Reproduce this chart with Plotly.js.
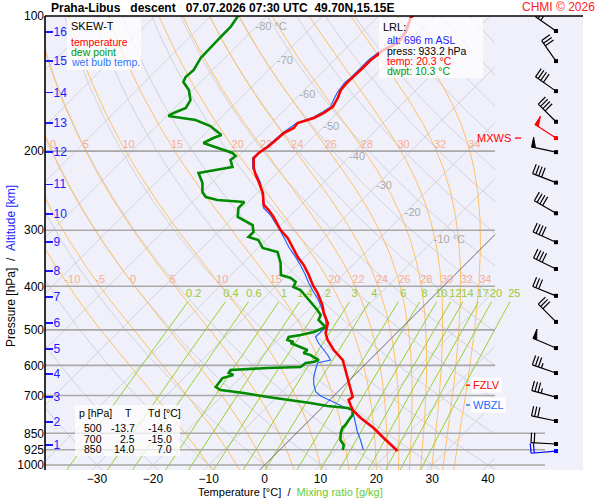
<!DOCTYPE html>
<html><head><meta charset="utf-8">
<script src="https://cdn.plot.ly/plotly-3.0.1.min.js"></script>
<style>body{margin:0;background:#fff}#chart{width:600px;height:500px}</style>
</head><body><div id="chart"></div>
<script>
// ---------------- sounding data ----------------
const tempP = [99.5,101.0,104.7,109.1,114.8,119.1,122.1,125.3,129.9,136.7,140.3,146.1,152.3,159.4,164.4,168.7,173.1,177.6,182.2,190.8,195.8,201.9,207.2,218.1,226.0,234.3,247.9,263.6,270.5,280.3,292.1,299.7,312.2,328.6,344.2,358.6,377.4,397.3,413.9,440.2,458.7,482.8,508.2,526.8,554.5,583.7,614.4,656.7,705.6,716.5,754.2,785.8,827.2,870.7,911.8,930.7];
const tempT = [-53.9,-53.9,-53.0,-52.1,-51.7,-53.0,-53.2,-53.5,-53.5,-53.7,-53.7,-53.5,-52.6,-51.9,-52.4,-53.3,-55.3,-55.1,-56.0,-56.2,-56.4,-56.9,-56.9,-55.1,-53.5,-51.7,-49.0,-46.7,-44.9,-42.8,-40.6,-39.2,-36.5,-33.8,-31.3,-28.8,-26.1,-23.6,-21.3,-18.3,-16.6,-14.1,-12.7,-11.1,-8.2,-4.8,-2.5,0.4,3.6,3.4,5.9,8.8,12.9,16.5,19.7,21.3];

const dewP = [99.5,105.8,111.4,119.1,124.0,131.9,136.7,140.3,146.1,153.9,160.3,164.4,167.0,170.5,175.8,184.1,187.0,191.8,196.8,201.9,205.0,209.3,216.9,223.7,235.5,246.6,253.0,256.9,259.6,267.7,280.3,287.6,292.1,302.7,310.6,315.4,328.6,335.5,354.9,377.4,383.3,391.2,401.4,407.6,424.7,440.2,451.6,463.4,475.4,492.8,505.6,513.4,518.7,526.8,532.2,534.9,546.0,554.5,563.1,568.9,583.7,589.7,592.7,605.0,608.1,614.4,623.9,630.3,640.1,670.3,680.7,691.3,705.6,716.5,727.6,738.9,746.6,754.2,773.8,793.9,814.5,827.2,848.7,879.7,902.5,926.0];
const dewT = [-85.2,-84.5,-84.5,-84.3,-84.3,-83.4,-83.6,-83.1,-80.7,-78.6,-78.0,-79.3,-79.7,-74.1,-70.4,-66.8,-67.7,-68.6,-65.2,-61.6,-60.5,-60.7,-59.1,-64.1,-61.6,-60.0,-58.5,-55.9,-50.7,-50.7,-49.2,-46.5,-45.1,-43.7,-43.7,-41.4,-39.2,-35.8,-33.3,-31.1,-28.8,-27.2,-26.7,-24.9,-22.2,-19.9,-18.3,-16.8,-16.3,-13.8,-15.0,-16.8,-18.6,-18.3,-16.8,-17.2,-14.7,-12.9,-13.1,-11.5,-9.1,-9.7,-10.9,-11.1,-16.8,-23.1,-22.9,-21.7,-23.1,-22.7,-21.3,-16.6,-11.6,-7.0,-2.9,0.7,4.7,5.9,6.8,7.0,7.3,7.3,7.9,9.1,10.6,11.3];

const wetP = [99.5,104.7,109.1,114.8,119.1,125.3,130.6,137.4,140.3,147.7,153.9,159.4,163.6,167.9,173.1,182.2,195.8,207.2,218.1,227.2,235.5,247.9,267.7,277.5,289.1,296.6,310.6,327.0,344.2,358.6,377.4,393.2,411.8,429.1,451.6,475.4,492.8,518.7,534.9,548.8,568.9,583.7,592.7,614.4,640.1,663.5,687.8,702.0,723.9,742.7,754.2,773.8,806.2,844.3,879.7,926.0];
const wetT = [-54.2,-53.3,-52.4,-52.1,-53.3,-53.9,-53.9,-53.9,-54.1,-53.7,-53.0,-52.3,-52.8,-53.5,-55.5,-56.2,-56.6,-57.1,-55.3,-53.0,-51.2,-49.1,-46.2,-43.7,-41.4,-39.9,-37.4,-34.7,-31.7,-29.4,-26.7,-24.7,-22.2,-19.9,-17.4,-15.0,-13.7,-13.8,-12.2,-10.6,-8.4,-7.0,-8.8,-7.9,-6.8,-5.5,-3.9,-2.3,1.1,3.8,5.9,7.0,8.8,10.7,12.7,15.0];

const windP   = [108,126,147,172,187,201,235,275,319,366,420,480,549,624,706,798,898,931];
const windDir = [305,325,305,315,303,282,291,300,294,296,292,315,293,289,285,282,273,265];
const windSpd = [30,30,40,40,50,50,40,40,40,40,30,30,50,35,35,30,20,20];
const mxwsIndex = 4;          // red barb (maximum wind)
const surfaceIndex = 17;      // blue barb

const pressureTicks = [100,200,300,400,500,600,700,850,925,1000];
const altitudeKm = [1,2,3,4,5,6,7,8,9,10,11,12,13,14,15,16];
const altitudeP  = [902,802,706,627,552,483,422,370,319,276,237,201,173,148,126,108.5];

const isothermValues = [-120,-110,-100,-90,-80,-70,-60,-50,-40,-30,-20,-10,10,20,30,40];
const isothermLabelValues = [-80,-70,-60,-50,-40,-30,-20,-10];
const isothermLabelP = [105.9,126.3,150.0,176.7,206.1,239.1,274.7,315.4];
const dryAdiabatTheta = [-40,-30,-20,-10,0,10,20,30,40,50,60,70,80,90,100,110,120,130,140,150,160,170,180];
const moistThetaW = [-10,-5,0,5,10,15,20,22,24,26,28,30,32,34];
const moistLabelP = [194,387];
const moistLabelRows = [[0,5,10,15,20,22,24,26,28,30,32,34], [-10,-5,0,5,10,15,20,22,24,26,28,30,32,34]];
const mixingRatios = [0.2,0.4,0.6,1,1.4,2,3,4,6,8,10,12,14,17,20,25];
const mixingLabels = ['0.2','0.4','0.6','1','1.4','2','3','4','6','8','10','12','14','17','20','25'];
const mixingLabelP = 416, mixingTopP = 433;

const tableP = [500,700,850];
const tableT = [-13.7,2.5,14.0];
const tableTd = [-14.6,-15.0,7.0];
const lrlAlt = 696, lrlPress = 933.2, lrlTemp = 20.3, lrlDwpt = 10.3;
const fzlvP = 664, wbzlP = 735;

// ---------------- diagram geometry ----------------
const FONT = 'Liberation Sans, Arial, Helvetica, sans-serif';
const PXPERDEG = 5.586, PXPERDEC = 449;
const K = PXPERDEC / PXPERDEG;                // 45 degree skew
const XMIN = -39.31, XMAX = 57.0;
const XCLIP = XMIN + 450 / PXPERDEG;          // right edge of the grid
const XCLIP2 = XMIN + 500 / PXPERDEG;
const YRANGE = [2 + 454 / PXPERDEC, 2];
function skewX(T, p) { return T + K * Math.log10(1000 / p); }
function logSpace(p0, p1, n) { const a = []; for (let i = 0; i <= n; i++) a.push(p0 * Math.pow(p1 / p0, i / n)); return a; }
function clipLine(xs, ps, xmax) {
  const ox = [], oy = [];
  for (let i = 0; i < xs.length; i++) {
    const inside = xs[i] <= xmax;
    if (i > 0) {
      const prevIn = xs[i - 1] <= xmax;
      if (prevIn !== inside) {
        const t = (xmax - xs[i - 1]) / (xs[i] - xs[i - 1]);
        const lp = Math.log10(ps[i - 1]) + t * (Math.log10(ps[i]) - Math.log10(ps[i - 1]));
        ox.push(xmax); oy.push(Math.pow(10, lp));
        if (!inside) { ox.push(null); oy.push(null); }
      }
    }
    if (inside) { ox.push(xs[i]); oy.push(ps[i]); }
  }
  ox.push(null); oy.push(null);
  return { x: ox, y: oy };
}
function family(list, color, width) {
  const X = [], Y = [];
  list.forEach(l => { X.push(...l.x); Y.push(...l.y); });
  return { x: X, y: Y, mode: 'lines', line: { color: color, width: width }, hoverinfo: 'skip', connectgaps: false };
}
const grid = logSpace(1030, 100, 160);

// isotherms
const isoLines = isothermValues.map(T => clipLine(grid.map(p => skewX(T, p)), grid, XCLIP));
const zeroLine = clipLine(grid.map(p => skewX(0, p)), grid, XCLIP);
// dry adiabats
const dryLines = dryAdiabatTheta.map(th => clipLine(grid.map(p => skewX((th + 273.15) * Math.pow(p / 1000, 0.2857) - 273.15, p)), grid, XCLIP));
// moist (pseudo) adiabats
function dTdp(p, T) {
  const tc = T - 273.15;
  const es = 6.112 * Math.exp(17.67 * tc / (tc + 243.5));
  const rs = 0.622 * es / (p - es);
  return (287.04 * T + 2.501e6 * rs) / (p * (1005.7 + 2.501e6 * 2.501e6 * rs * 0.622 / (287.04 * T * T)));
}
function integrate(T0, p0, p1, n) {
  const ps = [p0], Ts = [T0]; let T = T0, p = p0; const r = Math.pow(p1 / p0, 1 / n);
  for (let i = 0; i < n; i++) {
    const pn = p * r, h = pn - p;
    const k1 = dTdp(p, T), k2 = dTdp(p + h / 2, T + h / 2 * k1), k3 = dTdp(p + h / 2, T + h / 2 * k2), k4 = dTdp(pn, T + h * k3);
    T += h / 6 * (k1 + 2 * k2 + 2 * k3 + k4); p = pn; ps.push(p); Ts.push(T);
  }
  return { ps, Ts };
}
const moistLines = [], moistLabelX = [[], []], moistLabelT = [[], []];
moistThetaW.forEach(tw => {
  const down = integrate(tw + 273.15, 1000, 1030, 4);
  const up = integrate(tw + 273.15, 1000, 100, 200);
  const ps = down.ps.slice(1).reverse().concat(up.ps);
  const Ts = down.Ts.slice(1).reverse().concat(up.Ts).map(t => t - 273.15);
  moistLines.push(clipLine(Ts.map((t, i) => skewX(t, ps[i])), ps, XCLIP));
});
moistLabelP.forEach((pl, j) => {
  moistLabelRows[j].forEach(tw => {
    const r = integrate(tw + 273.15, 1000, pl, 120);
    const x = skewX(r.Ts[r.Ts.length - 1] - 273.15, pl);
    moistLabelX[j].push(Math.max(x, XMIN + 0.9)); moistLabelT[j].push(String(tw));
  });
});
// mixing ratio lines
function tdFromW(w, p) { const e = w * p / (622 + w); const l = Math.log(e / 6.112); return 243.5 * l / (17.67 - l); }
const mixGrid = logSpace(1030, mixingTopP, 40);
const mixLines = mixingRatios.map(w => clipLine(mixGrid.map(p => skewX(tdFromW(w, p), p)), mixGrid, XCLIP2));

const traces = [];
traces.push(family(isoLines, '#d2d2d8', 1));
traces.push(family(dryLines, '#d2d2d8', 1));
traces.push(family(moistLines, '#ffc166', 1));
traces.push(family(mixLines, '#9ad02e', 1));
// pressure lines
pressureTicks.forEach(p => {
  if (p === 100) return;
  const xe = p >= 850 ? XMIN + 500 / PXPERDEG : XCLIP;
  traces.push({ x: [XMIN, xe], y: [p, p], mode: 'lines', line: { color: '#a8a8a8', width: 1.6 }, hoverinfo: 'skip' });
});
traces.push(family([zeroLine], '#6a6a6a', 1));
// labels
traces.push({ x: isothermLabelValues.map((T, i) => skewX(T, isothermLabelP[i])), y: isothermLabelP,
  text: isothermLabelValues.map(T => (T === -80 || T === -10) ? T + ' °C' : String(T)),
  mode: 'text', textposition: 'middle right', textfont: { family: FONT, size: 11, color: '#a9a9a9' }, hoverinfo: 'skip' });
moistLabelP.forEach((pl, j) => traces.push({ x: moistLabelX[j], y: moistLabelX[j].map(() => pl), text: moistLabelT[j],
  mode: 'text', textposition: 'middle right', cliponaxis: false, textfont: { family: FONT, size: 11, color: '#f7ad90' }, hoverinfo: 'skip' }));
traces.push({ x: mixingRatios.map(w => skewX(tdFromW(w, mixingLabelP), mixingLabelP)), y: mixingRatios.map(() => mixingLabelP),
  text: mixingLabels, mode: 'text', textposition: 'middle center', cliponaxis: false,
  textfont: { family: FONT, size: 11, color: '#99cc33' }, hoverinfo: 'skip' });
// profiles
traces.push({ x: wetT.map((t, i) => skewX(t, wetP[i])), y: wetP, mode: 'lines', line: { color: '#2266ff', width: 1.2 }, name: 'wet bulb temp.' });
traces.push({ x: dewT.map((t, i) => skewX(t, dewP[i])), y: dewP, mode: 'lines', line: { color: '#008a00', width: 2.6 }, name: 'dew point' });
traces.push({ x: tempT.map((t, i) => skewX(t, tempP[i])), y: tempP, mode: 'lines', line: { color: '#ff0000', width: 2.6 }, name: 'temperature' });

// wind barbs (x2 axis measured in pixels, y = pressure)
const BX = 556, L = 25, B = 10, S = 3.2;
const barbCol = i => i === mxwsIndex ? '#ff0000' : (i === surfaceIndex ? '#0000ff' : '#000000');
const barbLines = {}, barbFill = {};
windP.forEach((p, i) => {
  const c = barbCol(i);
  barbLines[c] = barbLines[c] || { x: [], y: [] };
  barbFill[c] = barbFill[c] || { x: [], y: [] };
  const az = windDir[i] * Math.PI / 180;
  const ux = Math.sin(az), uy = Math.cos(az);
  const bx = uy, by = -ux;
  const pt = (d, e) => [BX + ux * d + bx * e, p * Math.pow(10, -(uy * d + by * e) / PXPERDEC)];
  const seg = (a, b) => { barbLines[c].x.push(a[0], b[0], null); barbLines[c].y.push(a[1], b[1], null); };
  seg(pt(0, 0), pt(L, 0));
  let s = windSpd[i], d = L;
  while (s >= 50) { const a = pt(d, 0), b = pt(d, B), e = pt(d - 4, 0);
    barbFill[c].x.push(a[0], b[0], e[0], a[0], null); barbFill[c].y.push(a[1], b[1], e[1], a[1], null); d -= 5; s -= 50; }
  while (s >= 10) { seg(pt(d, 0), pt(d, B)); d -= S; s -= 10; }
  if (s >= 5) seg(pt(d, 0), pt(d, B / 2));
});
Object.keys(barbLines).forEach(c => {
  traces.push({ x: barbLines[c].x, y: barbLines[c].y, xaxis: 'x2', mode: 'lines', line: { color: c, width: 1.2 }, cliponaxis: false, hoverinfo: 'skip' });
  traces.push({ x: barbFill[c].x, y: barbFill[c].y, xaxis: 'x2', mode: 'lines', fill: 'toself', fillcolor: c, line: { color: c, width: 1 }, cliponaxis: false, hoverinfo: 'skip' });
});
traces.push({ x: windP.map(() => BX), y: windP, xaxis: 'x2', mode: 'markers', cliponaxis: false,
  marker: { symbol: 'square', size: 4, color: windP.map((p, i) => barbCol(i)) }, hoverinfo: 'skip' });
// level markers
traces.push({ x: [466, 470], y: [fzlvP, fzlvP], xaxis: 'x2', mode: 'lines', line: { color: '#ff0000', width: 1.3 }, hoverinfo: 'skip' });
traces.push({ x: [466, 470], y: [wbzlP, wbzlP], xaxis: 'x2', mode: 'lines', line: { color: '#2266ff', width: 1.3 }, hoverinfo: 'skip' });
traces.push({ x: [515, 521], y: [windP[mxwsIndex], windP[mxwsIndex]], xaxis: 'x2', mode: 'lines', line: { color: '#ff0000', width: 1.3 }, hoverinfo: 'skip' });
// dummy for altitude axis
traces.push({ x: [0], y: [500], yaxis: 'y2', mode: 'markers', marker: { opacity: 0 }, hoverinfo: 'skip' });

// ---------------- layout ----------------
const PX = x => (x - 45) / 538, PY = y => (470 - y) / 454;
const ann = (text, x, y, o) => Object.assign({ text: text, x: PX(x), y: PY(y), xref: 'paper', yref: 'paper', showarrow: false,
  xanchor: 'left', yanchor: 'middle', font: { family: FONT, size: 11, color: '#000' } }, o || {});
const nb = n => '\u00a0'.repeat(n);
const annotations = [
  ann('<b>Praha-Libus' + nb(3) + 'descent' + nb(3) + '07.07.2026 07:30 UTC' + nb(2) + '49.70N,15.15E</b>', 49, 8, { font: { family: FONT, size: 12, color: '#000' } }),
  ann('CHMI © 2026', 597, 7, { xanchor: 'right', font: { family: FONT, size: 12, color: '#ff2020' } }),
  ann('Pressure [hPa]' + nb(2) + '/' + nb(2) + '<span style="color:#1a1aff">Altitude [km]</span>', 11, 266, { xanchor: 'center', textangle: -90, font: { family: FONT, size: 12, color: '#000' } }),
  ann('Temperature [°C]' + nb(2) + '/' + nb(2) + '<span style="color:#66cc33">Mixing ratio [g/kg]</span>', 196, 492, { font: { family: FONT, size: 11, color: '#000' } }),
  ann('SKEW-T', 69, 26, { font: { family: FONT, size: 11, color: '#000' } }),
  ann('temperature', 69, 42, { font: { family: FONT, size: 10.5, color: '#ff0000' } }),
  ann('dew point', 69, 52, { font: { family: FONT, size: 10.5, color: '#009900' } }),
  ann('wet bulb temp.', 69, 62, { font: { family: FONT, size: 10.5, color: '#3377ff' } }),
  ann('LRL:', 381, 27, { font: { family: FONT, size: 11, color: '#000' } }),
  ann('alt: ' + lrlAlt + ' m ASL', 385, 40, { font: { family: FONT, size: 10.5, color: '#1a1aff' } }),
  ann('press: ' + lrlPress.toFixed(1) + ' hPa', 385, 51, { font: { family: FONT, size: 10.5, color: '#000' } }),
  ann('temp: ' + lrlTemp.toFixed(1) + ' °C', 385, 61, { font: { family: FONT, size: 10.5, color: '#ff0000' } }),
  ann('dwpt: ' + lrlDwpt.toFixed(1) + ' °C', 385, 71, { font: { family: FONT, size: 10.5, color: '#009900' } }),
  ann('p [hPa]', 77, 413, { font: { family: FONT, size: 10.5 } }),
  ann('T', 128, 413, { xanchor: 'center', font: { family: FONT, size: 10.5 } }),
  ann('Td [°C]', 146, 413, { font: { family: FONT, size: 10.5 } }),
  { text: 'FZLV', x: 471, y: Math.log10(fzlvP), xref: 'x2', yref: 'y', showarrow: false, xanchor: 'left', yanchor: 'middle',
    bgcolor: '#ffffff', borderpad: 1, font: { family: FONT, size: 11, color: '#ff0000' } },
  { text: 'WBZL', x: 471, y: Math.log10(wbzlP), xref: 'x2', yref: 'y', showarrow: false, xanchor: 'left', yanchor: 'middle',
    bgcolor: '#ffffff', borderpad: 1, font: { family: FONT, size: 11, color: '#2266ff' } },
  { text: 'MXWS', x: 513, y: Math.log10(windP[mxwsIndex]), xref: 'x2', yref: 'y', showarrow: false, xanchor: 'right', yanchor: 'middle',
    font: { family: FONT, size: 11, color: '#ff0000' } }
];
const rowY = [428, 439, 449];
tableP.forEach((p, i) => {
  annotations.push(ann(String(p), 93, rowY[i], { xanchor: 'center', font: { family: FONT, size: 10.5 } }));
  annotations.push(ann(tableT[i].toFixed(1), 137, rowY[i], { xanchor: 'right', font: { family: FONT, size: 10.5 } }));
  annotations.push(ann(tableTd[i].toFixed(1), 174, rowY[i], { xanchor: 'right', font: { family: FONT, size: 10.5 } }));
});
const box = (x0, y0, x1, y1) => ({ type: 'rect', xref: 'paper', yref: 'paper', x0: PX(x0), x1: PX(x1), y0: PY(y1), y1: PY(y0),
  fillcolor: 'rgba(255,255,255,0.72)', line: { width: 0 }, layer: 'above' });
const shapes = [
  box(67, 18, 141, 70), box(379, 18, 483, 78), box(75, 405, 180, 456),
  { type: 'line', xref: 'paper', yref: 'paper', x0: 0, x1: 1, y0: 1, y1: 1, line: { color: '#000', width: 1.6 } },
  { type: 'line', xref: 'paper', yref: 'paper', x0: 0, x1: 0, y0: 0, y1: 1, line: { color: '#000', width: 1.6 } }
];
const layout = {
  width: 600, height: 500, margin: { l: 45, r: 17, t: 16, b: 30, pad: 0 },
  paper_bgcolor: '#ffffff', plot_bgcolor: '#f0f0fa', showlegend: false,
  font: { family: FONT, size: 12, color: '#000' },
  xaxis: { range: [XMIN, XMAX], tickvals: [-30, -20, -10, 0, 10, 20, 30, 40], ticks: '', showgrid: false, zeroline: false,
    showline: false, tickfont: { family: FONT, size: 12, color: '#000' }, fixedrange: true, automargin: false },
  xaxis2: { overlaying: 'x', range: [45, 583], visible: false, fixedrange: true },
  yaxis: { type: 'log', range: YRANGE, tickvals: pressureTicks, ticktext: pressureTicks.map(String), ticks: '', showgrid: false,
    zeroline: false, showline: false, tickfont: { family: FONT, size: 12, color: '#000' }, fixedrange: true, automargin: false },
  yaxis2: { type: 'log', range: YRANGE, overlaying: 'y', side: 'left', anchor: 'x', tickvals: altitudeP, ticktext: altitudeKm.map(String),
    ticks: 'inside', ticklen: 8, tickwidth: 1.5, tickcolor: '#1a1aff', ticklabelposition: 'inside', showgrid: false, zeroline: false,
    showline: false, tickfont: { family: FONT, size: 12, color: '#1a1aff' }, fixedrange: true, automargin: false },
  annotations: annotations, shapes: shapes
};
Plotly.newPlot('chart', traces, layout, { staticPlot: true, displayModeBar: false });
</script></body></html>
